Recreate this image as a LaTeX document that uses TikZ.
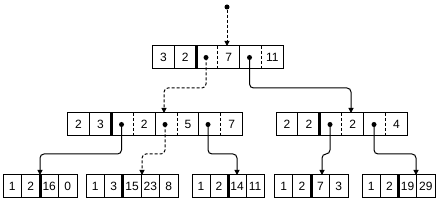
\documentclass[tikz,border=0pt]{standalone}
\usepackage{fontspec}
\setmainfont{Liberation Sans}
\usetikzlibrary{arrows.meta}
\begin{document}
\begin{tikzpicture}[x=1pt,y=-1pt,
  rec/.style={draw,line width=1pt,inner sep=0pt,minimum height=23pt},
  leafrec/.style={draw,line width=1pt,inner sep=0pt,minimum height=22pt},
  txt/.style={inner sep=0pt,font=\fontsize{12}{12}\selectfont},
  div/.style={line width=1pt},
  thk/.style={line width=3pt},
  dsh/.style={line width=1pt,dash pattern=on 3pt off 2pt},
  dot/.style={circle,fill,inner sep=0pt,minimum size=5pt},
  conn/.style={line width=1pt,rounded corners=4pt,-{Triangle[length=5pt,width=5pt]}},
  dconn/.style={conn,dash pattern=on 3pt off 2pt}]
\useasboundingbox (0,0) rectangle (438,205);
\fill[white] (0,0) rectangle (438,205);
% ---------- root ----------
\node[rec,minimum width=130.8pt] (R) at (217.9,57.5) {};
\foreach \t [count=\i] in {3,2,,7,,11}
  \node[txt] (R-\i) at ({152.5+21.8*\i-10.9},57.5) {\t};
\foreach \x in {174.3,239.7} \draw[div] (\x,46) -- (\x,69);
\draw[thk] (196.1,46) -- (196.1,69);
\foreach \x in {217.9,261.5} \draw[dsh] (\x,46) -- (\x,69);
\node[dot] (Rd1) at (206,57.5) {};
\node[dot] (Rd2) at (249.5,57.5) {};
% ---------- level 2 left ----------
\node[rec,minimum width=175.2pt] (A) at (155.1,124.5) {};
\foreach \t [count=\i] in {2,3,,2,,5,,7}
  \node[txt] (A-\i) at ({67.5+21.9*\i-10.95},124.5) {\t};
\foreach \x in {89.4,155.1,198.9} \draw[div] (\x,113) -- (\x,136);
\draw[thk] (111.3,113) -- (111.3,136);
\foreach \x in {133.2,177,220.8} \draw[dsh] (\x,113) -- (\x,136);
\node[dot] (Ad1) at (121.5,124.5) {};
\node[dot] (Ad2) at (165,124.5) {};
\node[dot] (Ad3) at (208,124.5) {};
% ---------- level 2 right ----------
\node[rec,minimum width=131.4pt] (B) at (341.7,124.5) {};
\foreach \t [count=\i] in {2,2,,2,,4}
  \node[txt] (B-\i) at ({276+21.9*\i-10.95},124.5) {\t};
\foreach \x in {297.9,363.6} \draw[div] (\x,113) -- (\x,136);
\draw[thk] (319.8,113) -- (319.8,136);
\foreach \x in {341.7,385.5} \draw[dsh] (\x,113) -- (\x,136);
\node[dot] (Bd1) at (330,124.5) {};
\node[dot] (Bd2) at (374,124.5) {};
% ---------- leaves ----------
\node[leafrec,minimum width=74pt] (L1) at (40,186) {};
\foreach \t [count=\i] in {1,2,16,0}
  \node[txt] (L1-\i) at ({3+18.5*\i-9.25},186) {\t};
\foreach \x in {21.5,58.5} \draw[div] (\x,175) -- (\x,197);
\draw[thk] (40,175) -- (40,197);
\node[leafrec,minimum width=92pt] (L2) at (132,186) {};
\foreach \t [count=\i] in {1,3,15,23,8}
  \node[txt] (L2-\i) at ({86+18.4*\i-9.2},186) {\t};
\foreach \x in {104.4,141.2,159.6} \draw[div] (\x,175) -- (\x,197);
\draw[thk] (122.8,175) -- (122.8,197);
\node[leafrec,minimum width=72pt] (L3) at (228,186) {};
\foreach \t [count=\i] in {1,2,14,11}
  \node[txt] (L3-\i) at ({192+18*\i-9},186) {\t};
\foreach \x in {210,246} \draw[div] (\x,175) -- (\x,197);
\draw[thk] (228,175) -- (228,197);
\node[leafrec,minimum width=73.5pt] (L4) at (311.25,186) {};
\foreach \t [count=\i] in {1,2,7,3}
  \node[txt] (L4-\i) at ({274.5+18.375*\i-9.1875},186) {\t};
\foreach \x in {292.9,329.6} \draw[div] (\x,175) -- (\x,197);
\draw[thk] (311.25,175) -- (311.25,197);
\node[leafrec,minimum width=73pt] (L5) at (398.5,186) {};
\foreach \t [count=\i] in {1,2,19,29}
  \node[txt] (L5-\i) at ({362+18.25*\i-9.125},186) {\t};
\foreach \x in {380.25,416.75} \draw[div] (\x,175) -- (\x,197);
\draw[thk] (398.5,175) -- (398.5,197);
% ---------- connectors ----------
\node[dot] (top) at (227,7) {};
\coordinate (inR) at (227,46);
\coordinate (inA) at (164,113);
\coordinate (inB) at (351,113);
\coordinate (in1) at (40,175);
\coordinate (in2) at (142,175);
\coordinate (in3) at (237,175);
\coordinate (in4) at (322,175);
\coordinate (in5) at (416,175);
\coordinate (h1) at (0,88);
\coordinate (h2) at (0,154);
\draw[dconn] (top) -- (inR);
\draw[dconn] (Rd1.center) -- (Rd1 |- h1) -| (inA);
\draw[conn] (Rd2.center) -- (Rd2 |- h1) -| (inB);
\draw[conn] (Ad1.center) -- (Ad1 |- h2) -| (in1);
\draw[dconn] (Ad2.center) -- (Ad2 |- h2) -| (in2);
\draw[conn] (Ad3.center) -- (Ad3 |- h2) -| (in3);
\draw[conn] (Bd1.center) -- (Bd1 |- h2) -| (in4);
\draw[conn] (Bd2.center) -- (Bd2 |- h2) -| (in5);
\end{tikzpicture}
\end{document}
